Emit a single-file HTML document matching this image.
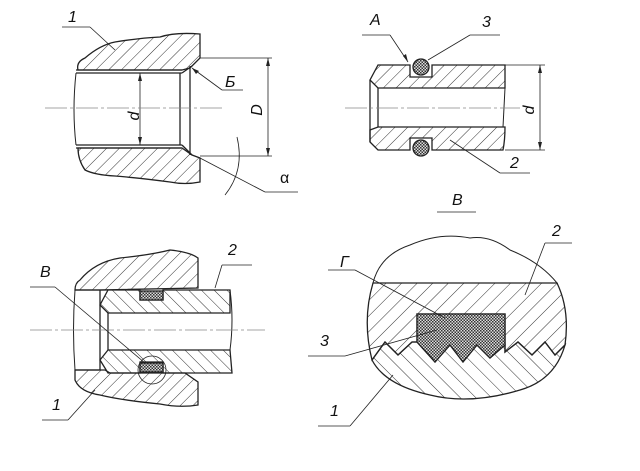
<!DOCTYPE html>
<html><head><meta charset="utf-8"><style>
html,body{margin:0;padding:0;background:#fff;}
svg{display:block;}
text{font-family:"Liberation Sans",sans-serif;font-style:italic;fill:#111;}
</style></head><body>
<svg width="640" height="471" viewBox="0 0 640 471" xmlns="http://www.w3.org/2000/svg">
<defs>
<pattern id="h" width="9" height="9" patternUnits="userSpaceOnUse" patternTransform="rotate(45)">
<line x1="0" y1="0" x2="0" y2="9" stroke="#333" stroke-width="1"/></pattern>
<pattern id="h2" width="9" height="9" patternUnits="userSpaceOnUse" patternTransform="rotate(-45)">
<line x1="0" y1="0" x2="0" y2="9" stroke="#333" stroke-width="1"/></pattern>
<pattern id="hb" width="11" height="11" patternUnits="userSpaceOnUse" patternTransform="rotate(45)">
<line x1="0" y1="0" x2="0" y2="11" stroke="#333" stroke-width="1"/></pattern>
<pattern id="hb2" width="11" height="11" patternUnits="userSpaceOnUse" patternTransform="rotate(-45)">
<line x1="0" y1="0" x2="0" y2="11" stroke="#333" stroke-width="1"/></pattern>
<pattern id="x" width="3" height="3" patternUnits="userSpaceOnUse">
<rect width="3" height="3" fill="#ddd"/><rect width="1.5" height="1.5" fill="#333"/><rect x="1.5" y="1.5" width="1.5" height="1.5" fill="#333"/></pattern>
</defs>
<g stroke="#222" stroke-width="1.3" fill="none">
<!-- Panel 1 -->
<path d="M78,70 Q76,62 85,58 Q100,45 115,42 Q140,38 160,37 Q175,32 200,34 L200,58 L190,68 L182,70 Z" fill="url(#h)"/>
<path d="M78,148 L182,148 L192,155 L200,158 L200,182 Q185,185 170,182 Q140,178 115,176 Q95,175 85,170 Q78,160 78,148 Z" fill="url(#h)"/>
<line x1="76" y1="70" x2="182" y2="70"/><line x1="76" y1="73" x2="182" y2="73"/>
<line x1="76" y1="145" x2="182" y2="145"/><line x1="76" y1="148" x2="182" y2="148"/>
<line x1="180" y1="73" x2="180" y2="145"/><line x1="190" y1="66" x2="190" y2="155"/>
<line x1="182" y1="73" x2="192" y2="66"/><line x1="182" y1="145" x2="192" y2="155"/>
<path d="M76,73 Q72,110 76,145" stroke-width="1"/>
<g stroke-width="0.8">
<line x1="200" y1="58" x2="272" y2="58"/><line x1="200" y1="156" x2="272" y2="156"/>
<line x1="268" y1="58" x2="268" y2="156"/>
<line x1="140" y1="73" x2="140" y2="145"/>
<line x1="45" y1="108" x2="225" y2="108" stroke-dasharray="22,3,3,3" stroke="#888"/>
<line x1="200" y1="158" x2="265" y2="192"/><line x1="265" y1="192" x2="298" y2="192"/>
<path d="M237,137 Q245,170 225,195"/>
<line x1="62" y1="27" x2="90" y2="27"/><line x1="90" y1="27" x2="115" y2="50"/>
<line x1="192" y1="68" x2="222" y2="90"/><line x1="222" y1="90" x2="243" y2="90"/>
</g>
<g fill="#222" stroke="none">
<path d="M140,73 l-2,8 l4,0z"/><path d="M140,145 l-2,-8 l4,0z"/>
<path d="M268,58 l-2,8 l4,0z"/><path d="M268,156 l-2,-8 l4,0z"/>
<path d="M192,68 l7,3 l-3,3z"/>
</g>
<!-- Panel 2 -->
<path d="M378,65 L410,65 L410,77 L432,77 L432,65 L505,65 L505,88 L378,88 L370,80 Z" fill="url(#h)"/>
<path d="M370,142 L378,150 L410,150 L410,138 L432,138 L432,150 L503,150 Q505,140 505,127 L378,127 L370,130 Z" fill="url(#h)"/>
<line x1="370" y1="80" x2="370" y2="142"/><line x1="378" y1="88" x2="378" y2="127"/>
<line x1="505" y1="88" x2="503" y2="127" stroke-width="1"/>
<circle cx="421" cy="67" r="8" fill="url(#x)"/><circle cx="421" cy="148" r="8" fill="url(#x)"/>
<g stroke-width="0.8">
<line x1="505" y1="65" x2="545" y2="65"/><line x1="505" y1="150" x2="545" y2="150"/>
<line x1="540" y1="65" x2="540" y2="150"/>
<line x1="345" y1="108" x2="520" y2="108" stroke-dasharray="22,3,3,3" stroke="#888"/>
<line x1="362" y1="35" x2="390" y2="35"/><line x1="390" y1="35" x2="408" y2="62"/>
<line x1="428" y1="60" x2="470" y2="35"/><line x1="470" y1="35" x2="500" y2="35"/>
<line x1="450" y1="140" x2="500" y2="173"/><line x1="500" y1="173" x2="530" y2="173"/>
<line x1="437" y1="212" x2="476" y2="212"/>
</g>
<g fill="#222" stroke="none">
<path d="M540,65 l-2,8 l4,0z"/><path d="M540,150 l-2,-8 l4,0z"/><path d="M408,62 l-5,-6 l3,-2z"/>
</g>
<!-- Panel 3 -->
<path d="M75,290 Q75,283 80,280 Q95,262 120,258 Q150,255 170,250 Q190,252 198,258 L198,288 L100,290 Z" fill="url(#h)"/>
<path d="M75,370 L105,370 L110,373 L185,373 L198,382 L198,405 Q180,408 160,404 Q120,400 100,395 Q80,392 75,380 Z" fill="url(#h)"/>
<path d="M108,290 L140,290 L140,300 L163,300 L163,290 L230,290 L230,313 L108,313 L100,305 Z" fill="url(#h2)"/>
<path d="M100,360 L108,350 L230,350 L232,373 L163,373 L163,362 L140,362 L140,373 L108,373 Z" fill="url(#h2)"/>
<rect x="140" y="291" width="23" height="9" fill="url(#x)"/><rect x="140" y="363" width="23" height="9" fill="url(#x)"/>
<line x1="75" y1="290" x2="108" y2="290"/><line x1="75" y1="370" x2="100" y2="370"/>
<line x1="100" y1="290" x2="100" y2="370"/><line x1="108" y1="313" x2="108" y2="350"/>
<path d="M75,290 Q72,330 75,370" stroke-width="1"/>
<path d="M230,290 Q234,320 230,350" stroke-width="1"/>
<circle cx="152" cy="370" r="14" stroke-width="0.8"/>
<g stroke-width="0.8">
<line x1="30" y1="330" x2="265" y2="330" stroke-dasharray="22,3,3,3" stroke="#888"/>
<line x1="30" y1="287" x2="55" y2="287"/><line x1="55" y1="287" x2="145" y2="363"/>
<line x1="215" y1="288" x2="222" y2="265"/><line x1="222" y1="265" x2="252" y2="265"/>
<line x1="42" y1="420" x2="68" y2="420"/><line x1="68" y1="420" x2="95" y2="390"/>
</g>
<!-- Panel 4 -->
<path d="M373,283 Q380,255 410,245 Q440,232 470,238 Q490,235 510,250 Q540,262 557,283 Z" stroke-width="1"/>
<path d="M373,283 L557,283 Q570,310 565,345 L555,355 L545,342 L532,355 L518,342 L505,352 L505,314 L417,314 L417,342 L412,342 L398,355 L385,342 L372,360 Q362,320 373,283 Z" fill="url(#hb)"/>
<path d="M372,360 L385,342 L398,355 L412,342 L417,342 L435,362 L450,345 L463,362 L477,345 L490,358 L505,345 L505,352 L518,342 L532,355 L545,342 L555,355 L565,345 Q555,380 520,390 Q470,405 430,395 Q385,385 372,360 Z" fill="url(#hb2)"/>
<path d="M417,314 L505,314 L505,345 L490,358 L477,345 L463,362 L450,345 L435,362 L417,342 Z" fill="url(#x)"/>
<g stroke-width="0.8">
<line x1="328" y1="270" x2="355" y2="270"/><line x1="355" y1="270" x2="445" y2="318"/>
<line x1="545" y1="243" x2="572" y2="243"/><line x1="545" y1="243" x2="525" y2="295"/>
<line x1="308" y1="356" x2="345" y2="356"/><line x1="345" y1="356" x2="437" y2="330"/>
<line x1="318" y1="426" x2="350" y2="426"/><line x1="350" y1="426" x2="393" y2="375"/>
</g>
</g>
<g font-size="16">
<text x="68" y="22">1</text>
<text x="225" y="87">Б</text>
<text x="280" y="183" style="font-style:normal">α</text>
<text transform="translate(139,116) rotate(-90)" text-anchor="middle">d</text>
<text transform="translate(262,110) rotate(-90)" text-anchor="middle">D</text>
<text x="370" y="25">А</text>
<text x="482" y="27">3</text>
<text x="510" y="168">2</text>
<text transform="translate(534,110) rotate(-90)" text-anchor="middle">d</text>
<text x="452" y="205">В</text>
<text x="40" y="277">В</text>
<text x="228" y="255">2</text>
<text x="52" y="410">1</text>
<text x="340" y="267">Г</text>
<text x="552" y="236">2</text>
<text x="320" y="346">3</text>
<text x="330" y="416">1</text>
</g>
</svg>
</body></html>
